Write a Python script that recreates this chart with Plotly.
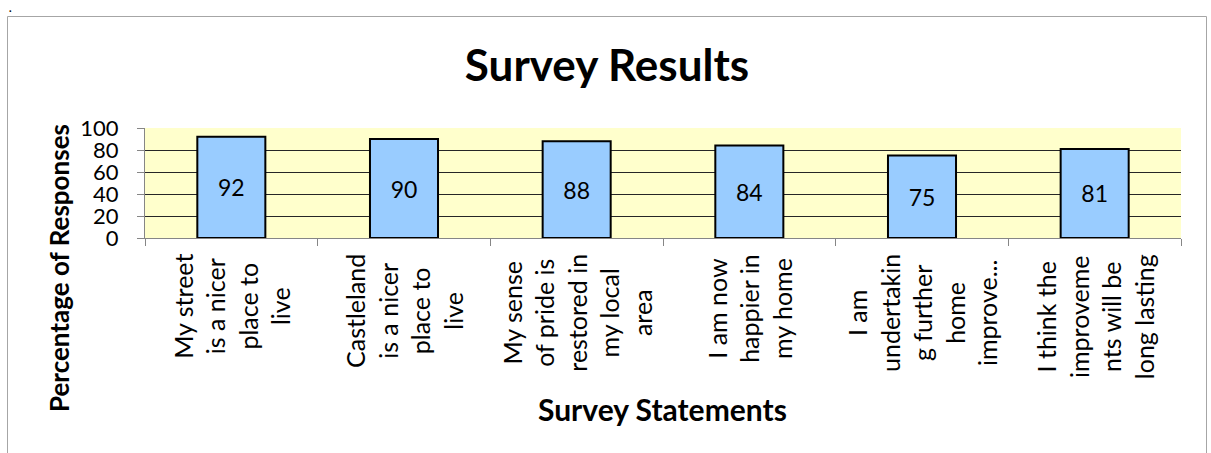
import plotly.graph_objects as go

categories = [
    "My street is a nicer place to live",
    "Castleland is a nicer place to live",
    "My sense of pride is restored in my local area",
    "I am now happier in my home",
    "I am undertaking further home improve...",
    "I think the improvements will be long lasting",
]
values = [92, 90, 88, 84, 75, 81]
label_lines = [
    ["My street", "is a nicer", "place to", "live"],
    ["Castleland", "is a nicer", "place to", "live"],
    ["My sense", "of pride is", "restored in", "my local", "area"],
    ["I am now", "happier in", "my home"],
    ["I am", "undertakin", "g further", "home", "improve..."],
    ["I think the", "improveme", "nts will be", "long lasting"],
]
y_ticks = [0, 20, 40, 60, 80, 100]
title_text = "Survey Results"
x_title = "Survey Statements"
y_title = "Percentage of Responses"

FONT = "Lato, 'Open Sans', sans-serif"
W, H = 1211, 453
# target plot area in screen pixels
SX0, SX1, SY0, SY1 = 145, 1181, 128, 238
L = SX0
T = SY0
R = W - SX1
B = H - SY1
PW = SX1 - SX0
PH = SY1 - SY0


def px(x):
    return (x - SX0) / PW


def py(y):
    return (SY1 - y) / PH


fig = go.Figure()
fig.add_trace(go.Bar(
    x=categories, y=values,
    text=[str(v) for v in values],
    textposition="inside", insidetextanchor="middle", textangle=0,
    textfont=dict(family=FONT, size=23, color="black"),
    marker=dict(color="#99CCFF", line=dict(color="black", width=2)),
    width=0.394,
    hoverinfo="skip",
))

annotations = []
LABEL_SIZE = 25
LINE_PITCH = 32.5
for cat, lines in zip(categories, label_lines):
    n = len(lines)
    for i in range(n):
        parts = []
        for j, ln in enumerate(lines):
            if j == i:
                parts.append(ln)
            else:
                parts.append("<span style='color:rgba(0,0,0,0)'>" + ln + "</span>")
        annotations.append(dict(
            x=cat, xref="x", y=py(252), yref="paper",
            text="<br>".join(parts), showarrow=False, textangle=-90,
            align="center", xanchor="center", yanchor="top",
            xshift=(i - (n - 1) / 2) * (LINE_PITCH - 1.3 * LABEL_SIZE),
            font=dict(family=FONT, size=LABEL_SIZE, color="black"),
        ))

annotations.append(dict(
    x=px(59), y=py(268), xref="paper", yref="paper", text="<b>" + y_title + "</b>",
    showarrow=False, textangle=-90, xanchor="center", yanchor="middle",
    font=dict(family=FONT, size=26, color="black"),
))
annotations.append(dict(
    x=px(662), y=py(409), xref="paper", yref="paper", text="<b>" + x_title + "</b>",
    showarrow=False, xanchor="center", yanchor="middle",
    font=dict(family=FONT, size=30, color="black"),
))
annotations.append(dict(
    x=px(10), y=py(0), xref="paper", yref="paper", text="<b>.</b>",
    showarrow=False, xanchor="center", yanchor="top", borderpad=0,
    font=dict(family=FONT, size=11, color="black"),
))

fig.update_layout(
    width=W, height=H,
    margin=dict(l=L, r=R, t=T, b=B, pad=0),
    paper_bgcolor="white", plot_bgcolor="#FFFFCC",
    showlegend=False,
    title=dict(text="<b>" + title_text + "</b>", x=607 / W, xref="container",
               xanchor="center",
               y=(H - 66) / H, yref="container", yanchor="middle",
               font=dict(family=FONT, size=44, color="black")),
    bargap=0.606,
    annotations=annotations,
    shapes=[dict(type="rect", xref="paper", yref="paper",
                 x0=px(7.5), x1=px(1206.5), y0=py(475), y1=py(16.5),
                 line=dict(color="#A6A6A6", width=1), fillcolor="rgba(0,0,0,0)", layer="below")],
    xaxis=dict(showticklabels=False, ticks="outside", tickson="boundaries", ticklen=7,
               tickcolor="#868686", showline=True, linecolor="#868686", linewidth=1,
               showgrid=False, zeroline=False),
    yaxis=dict(range=[0, 100], tickvals=y_ticks, ticks="outside", ticklen=7,
               tickcolor="#868686", showline=True, linecolor="#868686", linewidth=1,
               showgrid=True, gridcolor="#262626", gridwidth=1, zeroline=False,
               ticklabelstandoff=14,
               tickfont=dict(family=FONT, size=22, color="black")),
)

fig.write_html("out.html", config={"displayModeBar": False},
               post_script="document.body.style.margin='0';")
